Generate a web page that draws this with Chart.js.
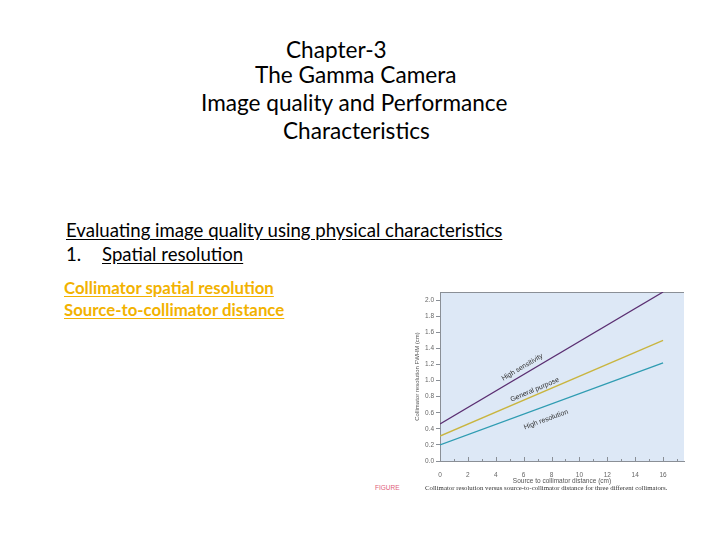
<!DOCTYPE html>
<html>
<head>
<meta charset="utf-8">
<script src="https://cdn.jsdelivr.net/npm/chart.js@4.4.1/dist/chart.umd.min.js"></script>
<style>
  body { margin: 0; width: 720px; height: 540px; background: #fff; position: relative; overflow: hidden; font-family: Lato, "Open Sans", sans-serif; }
  .t { position: absolute; white-space: nowrap; color: #000; line-height: 1; }
  .head { font-size: 22.6px; line-height: 0.95; }
  .sub { font-size: 18.6px; }
  .sub u, .gold u { text-underline-offset: 2px; }
  .gold { font-size: 16.8px; font-weight: bold; color: #f2b200; }
  #chartBox { position: absolute; left: 405px; top: 285px; width: 290px; height: 200px; }
  .cap { position: absolute; top: 484px; font-size: 6.5px; white-space: nowrap; }
</style>
</head>
<body>
<div class="t head" style="left:286px;top:39px">Chapter-3</div>
<div class="t head" style="left:255px;top:64px">The Gamma Camera</div>
<div class="t head" style="left:201px;top:92px">Image quality and Performance</div>
<div class="t head" style="left:283px;top:120px">Characteristics</div>

<div class="t sub" style="left:66px;top:221px"><u>Evaluating image quality using physical characteristics</u></div>
<div class="t sub" style="left:66px;top:245px">1.</div>
<div class="t sub" style="left:102px;top:245px"><u>Spatial resolution</u></div>

<div class="t gold" style="left:64px;top:280px"><u>Collimator spatial resolution</u></div>
<div class="t gold" style="left:64px;top:302px"><u>Source-to-collimator distance</u></div>

<div id="chartBox"><canvas id="resChart"></canvas></div>
<div class="cap" style="left:375px;color:#e0607a;font-family:Arial,sans-serif">FIGURE</div>
<div class="cap" style="left:425px;color:#333;font-family:'Liberation Serif',serif;font-size:6.8px">Collimator resolution versus source-to-collimator distance for three different collimators.</div>

<script>
// data
const distance = [0, 16];
const highSensitivity = [0.46, 2.1];
const generalPurpose = [0.31, 1.5];
const highResolution = [0.2, 1.22];

const seriesNames = ["High sensitivity", "General purpose", "High resolution"];
const seriesColors = ["#5b2f72", "#c9b53f", "#2f9cb2"];
const labelAtX = [5.9, 6.8, 7.6];
const labelOffset = [0.1, 0.07, -0.17];

const yTicks = [0, 0.2, 0.4, 0.6, 0.8, 1.0, 1.2, 1.4, 1.6, 1.8, 2.0];
const xTicks = [0, 2, 4, 6, 8, 10, 12, 14, 16];

const allSeries = [highSensitivity, generalPurpose, highResolution];

function toPoints(ys) {
    return distance.map((d, i) => ({ x: d, y: ys[i] }));
}

//plot background + top border + small inner x ticks
const plotBg = {
    id: "plotBg",
    beforeDraw(chart) {
        const a = chart.chartArea;
        const c = chart.ctx;
        c.save();
        c.fillStyle = "#dde8f6";
        c.fillRect(a.left, a.top, a.right - a.left, a.bottom - a.top);
        c.strokeStyle = "#8a8f96";
        c.lineWidth = 1;
        c.beginPath();
        c.moveTo(a.left, a.top + 0.5);
        c.lineTo(a.right, a.top + 0.5);
        const xs = chart.scales.x;
        for (let v = 1; v <= 17; v++) {
            const px = Math.round(xs.getPixelForValue(v)) + 0.5;
            const len = v % 2 === 0 ? 4 : 2;
            c.moveTo(px, a.bottom);
            c.lineTo(px, a.bottom - len);
        }
        c.stroke();
        c.restore();
    }
};

//labels written along each line
const lineLabels = {
    id: "lineLabels",
    afterDatasetsDraw(chart) {
        const xs = chart.scales.x, ys = chart.scales.y, c = chart.ctx;
        allSeries.forEach((vals, i) => {
            const slope = (vals[1] - vals[0]) / (distance[1] - distance[0]);
            const px1 = xs.getPixelForValue(distance[0]), py1 = ys.getPixelForValue(vals[0]);
            const px2 = xs.getPixelForValue(distance[1]), py2 = ys.getPixelForValue(vals[1]);
            const ang = Math.atan2(py2 - py1, px2 - px1);
            const lx = labelAtX[i];
            const ly = vals[0] + slope * (lx - distance[0]) + labelOffset[i];
            c.save();
            c.translate(xs.getPixelForValue(lx), ys.getPixelForValue(ly));
            c.rotate(ang);
            c.fillStyle = "#333";
            c.font = "7px Arial, sans-serif";
            c.textAlign = "center";
            c.textBaseline = "middle";
            c.fillText(seriesNames[i], 0, 0);
            c.restore();
        });
    }
};

const ctx = document.getElementById("resChart").getContext("2d");

new Chart(ctx, {
    type: "line",
    data: {
        datasets: allSeries.map((vals, i) => ({
            label: seriesNames[i],
            data: toPoints(vals),
            borderColor: seriesColors[i],
            borderWidth: 1.3,
            pointRadius: 0,
            fill: false
        }))
    },
    options: {
        responsive: true,
        maintainAspectRatio: false,
        animation: false,
        layout: { padding: { top: 7, right: 11, left: 9, bottom: 0 } },
        plugins: {
            legend: { display: false },
            tooltip: { enabled: false }
        },
        scales: {
            x: {
                type: "linear",
                min: 0,
                max: 17.5,
                afterBuildTicks: (s) => { s.ticks = xTicks.map(v => ({ value: v })); },
                afterFit: (s) => { s.height = 24; },
                grid: { display: false, drawOnChartArea: false },
                border: { display: true, color: "#8a8f96" },
                ticks: { color: "#666", font: { size: 6.5, family: "Arial" }, padding: 2 },
                title: { display: true, text: "Source to collimator distance (cm)", color: "#555", font: { size: 6.5, family: "Arial" }, padding: { top: 1, bottom: 0 } }
            },
            y: {
                min: 0,
                max: 2.1,
                afterBuildTicks: (s) => { s.ticks = yTicks.map(v => ({ value: v })); },
                afterFit: (s) => { s.width = 26; },
                grid: { display: true, drawOnChartArea: false, drawTicks: true, tickLength: 4, color: "#8a8f96" },
                border: { display: true, color: "#8a8f96" },
                ticks: { color: "#666", font: { size: 6.5, family: "Arial" }, padding: 2, callback: (v) => v.toFixed(1) },
                title: { display: true, text: "Collimator resolution FWHM (cm)", color: "#555", font: { size: 6, family: "Arial" }, padding: 0 }
            }
        }
    },
    plugins: [plotBg, lineLabels]
});
</script>
</body>
</html>
